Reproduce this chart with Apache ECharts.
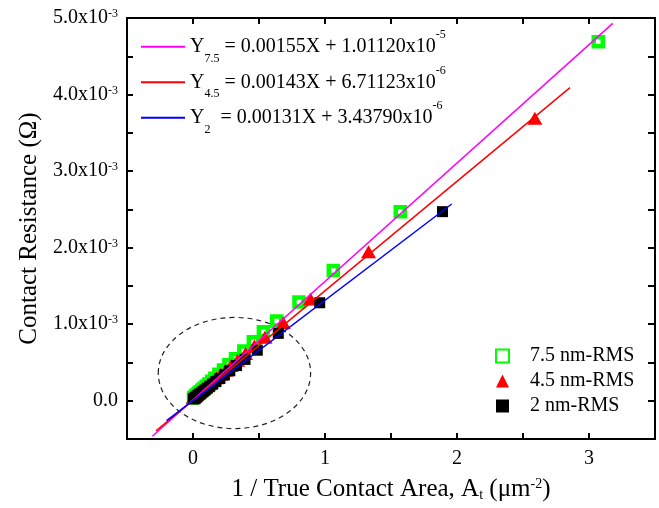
<!DOCTYPE html>
<html>
<head>
<meta charset="utf-8">
<script src="https://cdn.jsdelivr.net/npm/echarts@6/dist/echarts.min.js"></script>
<style>
html,body{margin:0;padding:0;background:#fff;}
#chart{width:659px;height:508px;}
</style>
</head>
<body>
<div id="chart"></div>
<script>
// ---- data: x = 1/True contact area (um^-2); y = contact resistance in units of 10^-3 Ohm ----
const rms75X = [3.07, 1.57, 1.063, 0.803, 0.634, 0.533, 0.457, 0.385, 0.322, 0.272, 0.231, 0.196, 0.166, 0.141, 0.119, 0.1, 0.083, 0.068, 0.055, 0.044, 0.034, 0.025, 0.017, 0.01, 0.004];
const rms75Y = [4.69, 2.47, 1.70, 1.29, 1.04, 0.90, 0.77, 0.65, 0.55, 0.47, 0.40, 0.345, 0.295, 0.255, 0.22, 0.19, 0.163, 0.139, 0.118, 0.1, 0.084, 0.07, 0.057, 0.046, 0.036];

const rms45X = [2.59, 1.33, 0.89, 0.684, 0.545, 0.465, 0.398, 0.338, 0.289, 0.247, 0.211, 0.18, 0.153, 0.129, 0.108, 0.09, 0.074, 0.06, 0.048, 0.037, 0.028, 0.02, 0.013, 0.007, 0.002];
const rms45Y = [3.69, 1.945, 1.33, 1.02, 0.83, 0.714, 0.617, 0.53, 0.459, 0.398, 0.346, 0.301, 0.262, 0.227, 0.197, 0.17, 0.147, 0.127, 0.11, 0.094, 0.081, 0.069, 0.059, 0.05, 0.043];

const rms2X = [1.89, 0.96, 0.646, 0.487, 0.394, 0.33, 0.279, 0.238, 0.204, 0.174, 0.149, 0.127, 0.108, 0.091, 0.076, 0.063, 0.051, 0.041, 0.032, 0.024, 0.017, 0.011, 0.006, 0.002];
const rms2Y = [2.47, 1.28, 0.88, 0.66, 0.54, 0.459, 0.391, 0.337, 0.291, 0.251, 0.218, 0.189, 0.164, 0.141, 0.121, 0.104, 0.088, 0.075, 0.063, 0.052, 0.043, 0.035, 0.028, 0.023];

// fitted lines: end points (same units)
const fit75X = [-0.308, 3.18];
const fit75Y = [-0.464, 4.93];
const fit45X = [-0.28, 2.856];
const fit45Y = [-0.394, 4.09];
const fit2X = [-0.2, 1.96];
const fit2Y = [-0.26, 2.57];

// dashed ellipse: [centerX, centerY, radiusX, radiusY]
const ellipseData = [[0.314, 0.362, 0.577, 0.726]];

const xLabelValues = [0, 1, 2, 3];
const yLabelValues = [0, 1, 2, 3, 4, 5];

const seriesNames = ['7.5 nm-RMS', '4.5 nm-RMS', '2 nm-RMS'];
const fitNames = ['fit75', 'fit45', 'fit2'];
const fitLabels = {
  fit75: '{b|Y}{sub|7.5}{b| = 0.00155X + 1.01120x10}{sup|-5}',
  fit45: '{b|Y}{sub|4.5}{b| = 0.00143X + 6.71123x10}{sup|-6}',
  fit2:  '{b|Y}{sub|2}{b|  = 0.00131X + 3.43790x10}{sup|-6}'
};

const zip = (xs, ys) => xs.map((x, i) => [x, ys[i]]);
const FONT = "'Liberation Serif', 'Times New Roman', serif";
const ax = () => ({ color: '#000', width: 2 });
const X_RANGE = { min: -0.5, max: 3.5, interval: 0.5 };
const Y_RANGE = { min: -0.5, max: 5, interval: 0.5 };

const chart = echarts.init(document.getElementById('chart'));
chart.setOption({
  animation: false,
  grid: { left: 127, right: 4, top: 18, bottom: 69, show: true, borderColor: '#000', borderWidth: 2 },
  legend: [
    {
      data: fitNames,
      orient: 'vertical',
      left: 141, top: 29, padding: 0,
      itemGap: 0,
      itemWidth: 44, itemHeight: 2,
      icon: 'rect',
      formatter: name => fitLabels[name],
      textStyle: {
        fontFamily: FONT,
        rich: {
          b: { fontSize: 20, lineHeight: 35.5, fontFamily: FONT, color: '#000' },
          sub: { fontSize: 12, lineHeight: 12, verticalAlign: 'bottom', fontFamily: FONT, color: '#000' },
          sup: { fontSize: 12, lineHeight: 16, verticalAlign: 'top', fontFamily: FONT, color: '#000' }
        }
      }
    },
    {
      data: seriesNames,
      orient: 'vertical',
      left: 495, top: 346, padding: 0,
      itemGap: 5,
      itemWidth: 13, itemHeight: 13,
      textStyle: { fontFamily: FONT, fontSize: 20, color: '#000', padding: [0, 0, 0, 16] }
    }
  ],
  xAxis: [
    Object.assign({
      type: 'value', position: 'bottom',
      axisLine: { show: true, onZero: false, lineStyle: ax() },
      axisTick: { show: true, inside: true, length: 6, lineStyle: ax() },
      axisLabel: { show: true, customValues: xLabelValues, fontSize: 20, margin: 10, color: '#000', fontFamily: FONT },
      splitLine: { show: false },
      name: '1 / True Contact Area, A{sub|t} (μm{sup|-2})',
      nameLocation: 'middle', nameGap: 38,
      nameTextStyle: {
        fontFamily: FONT, fontSize: 25, color: '#000',
        rich: {
          sub: { fontSize: 14, lineHeight: 14, verticalAlign: 'bottom', fontFamily: FONT, color: '#000' },
          sup: { fontSize: 14, lineHeight: 24, verticalAlign: 'top', fontFamily: FONT, color: '#000' }
        }
      }
    }, X_RANGE),
    Object.assign({
      type: 'value', position: 'top',
      axisLine: { show: true, onZero: false, lineStyle: ax() },
      axisTick: { show: true, inside: true, length: 6, lineStyle: ax() },
      axisLabel: { show: false }, splitLine: { show: false }
    }, X_RANGE)
  ],
  yAxis: [
    Object.assign({
      type: 'value', position: 'left',
      axisLine: { show: true, onZero: false, lineStyle: ax() },
      axisTick: { show: true, inside: true, length: 6, lineStyle: ax() },
      axisLabel: {
        show: true, customValues: yLabelValues, margin: 9, fontSize: 20, color: '#000', fontFamily: FONT,
        formatter: v => (v === 0 ? '{m|0.0}' : '{m|' + v.toFixed(1) + 'x10}{s|-3}'),
        rich: {
          m: { fontSize: 20, lineHeight: 20, fontFamily: FONT, color: '#000' },
          s: { fontSize: 12, lineHeight: 12, verticalAlign: 'top', fontFamily: FONT, color: '#000' }
        }
      },
      splitLine: { show: false },
      name: 'Contact Resistance (Ω)',
      nameLocation: 'middle', nameGap: 84,
      nameTextStyle: { fontFamily: FONT, fontSize: 25, color: '#000' }
    }, Y_RANGE),
    Object.assign({
      type: 'value', position: 'right',
      axisLine: { show: true, onZero: false, lineStyle: ax() },
      axisTick: { show: true, inside: true, length: 7, lineStyle: ax() },
      axisLabel: { show: false }, splitLine: { show: false }
    }, Y_RANGE)
  ],
  series: [
    {
      name: 'ellipse', type: 'custom', silent: true,
      data: ellipseData,
      renderItem: (params, api) => {
        const c = api.coord([api.value(0), api.value(1)]);
        const s = api.size([api.value(2), api.value(3)]);
        return {
          type: 'ellipse',
          shape: { cx: c[0], cy: c[1], rx: s[0], ry: s[1] },
          style: { fill: 'none', stroke: '#222', lineWidth: 1.2, lineDash: [5, 4] }
        };
      }
    },
    { name: 'fit75', type: 'line', data: zip(fit75X, fit75Y), showSymbol: false, symbol: 'none',
      lineStyle: { color: '#ff00ff', width: 1.5 }, itemStyle: { color: '#ff00ff' } },
    { name: 'fit45', type: 'line', data: zip(fit45X, fit45Y), showSymbol: false, symbol: 'none',
      lineStyle: { color: '#ff0000', width: 1.5 }, itemStyle: { color: '#ff0000' } },
    { name: 'fit2', type: 'line', data: zip(fit2X, fit2Y), showSymbol: false, symbol: 'none',
      lineStyle: { color: '#0000ff', width: 1.5 }, itemStyle: { color: '#0000ff' } },
    { name: seriesNames[0], type: 'scatter', data: zip(rms75X, rms75Y), symbol: 'rect', symbolSize: 9,
      itemStyle: { color: '#ffffff', borderColor: '#00ff00', borderWidth: 4.5, opacity: 1 } },
    { name: seriesNames[1], type: 'scatter', data: zip(rms45X, rms45Y), symbol: 'triangle', symbolSize: [15, 13],
      itemStyle: { color: '#ff0000', opacity: 1 } },
    { name: seriesNames[2], type: 'scatter', data: zip(rms2X, rms2Y), symbol: 'rect', symbolSize: 11,
      itemStyle: { color: '#000000', opacity: 1 } }
  ]
});
</script>
</body>
</html>
